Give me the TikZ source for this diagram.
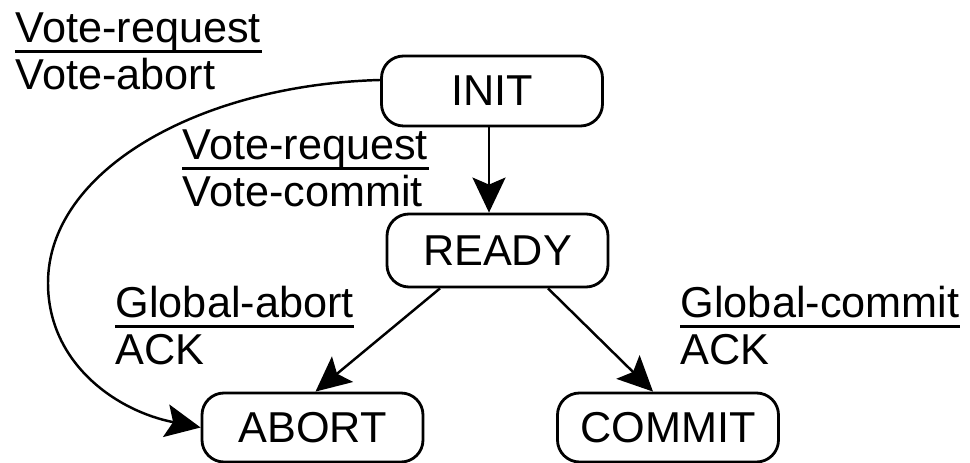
\documentclass[tikz,border=0pt]{standalone}
\usepackage{fontspec}
\setmainfont{Liberation Sans}
\usetikzlibrary{arrows.meta,calc}

\tikzset{
  state/.style={draw, line width=0.8pt, rounded corners=0.22cm, minimum width=2.21cm,
    minimum height=0.7cm, inner sep=0pt, font=\fontsize{12.3}{14}\selectfont},
  lbl/.style={inner sep=0pt, anchor=base west, font=\fontsize{12.3}{14}\selectfont},
  trans/.style={line width=0.7pt, -{Stealth[length=3.5mm, width=3.3mm, inset=0.7mm]}}
}
% message label: name, base point, received message, sent message
\newcommand{\msg}[4]{%
  \node[lbl] (#1-in) at (#2) {#3};
  \node[lbl] (#1-out) at ($(#1-in.base west)+(0,-0.47)$) {#4};
  \draw[line width=0.7pt] ($(#1-in.base west)+(0,-0.085)$) -- ($(#1-in.base east)+(0,-0.085)$);}

\begin{document}
\begin{tikzpicture}
    \useasboundingbox (0,0) rectangle (9.70,-4.63);
    \node[state] (INIT) at (4.92,-0.91) {INIT};
    \node[state, minimum height=0.73cm] (READY) at (4.975,-2.505) {READY};
    \node[state, minimum height=0.69cm] (ABORT) at (3.125,-4.275) {ABORT};
    \node[state, minimum height=0.69cm] (COMMIT) at (6.68,-4.275) {COMMIT};

    \coordinate (start) at ($(INIT.west)+(0,0.11)$);
    \coordinate (left) at (0.48,-2.83);

    \draw[trans] ($(INIT.south)+(-0.03,0)$) -- ($(INIT.south |- READY.north)+(-0.03,0)$);
    \draw[trans] ($(READY.south)+(-0.575,0)$) -- ($(ABORT.north)+(0.03,0)$);
    \draw[trans] ($(READY.south)+(0.505,0)$) -- ($(COMMIT.north)+(-0.15,0)$);
    \draw[trans] (start) .. controls (1.98,-0.85) and (0.48,-1.71) .. (left)
        .. controls (0.48,-3.63) and (1.16,-4.11) .. (ABORT.west);

    \msg{va}{0.15,-0.43}{Vote-request}{Vote-abort}
    \msg{vc}{1.82,-1.60}{Vote-request}{Vote-commit}
    \msg{ga}{1.15,-3.18}{Global-abort}{ACK}
    \msg{gc}{6.80,-3.18}{Global-commit}{ACK}
\end{tikzpicture}
\end{document}
